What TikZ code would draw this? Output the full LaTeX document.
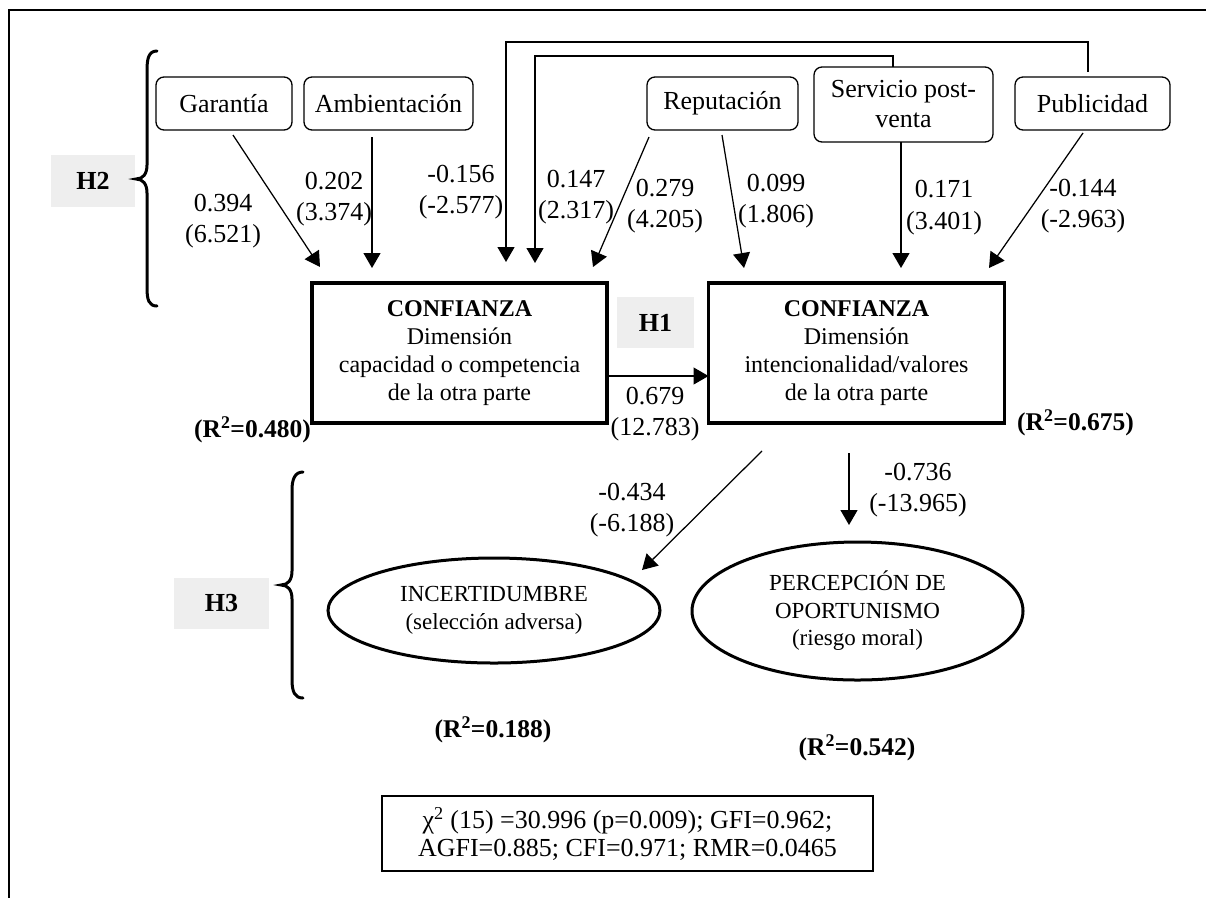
\documentclass[tikz,border=0pt]{standalone}
\usepackage{fontspec}
\setmainfont{Liberation Serif}
\usetikzlibrary{arrows.meta,shapes.geometric}
\definecolor{hgray}{RGB}{238,238,238}
\begin{document}
\begin{tikzpicture}[x=1pt,y=-1pt,
  every node/.style={inner sep=0pt, outer sep=0pt, align=center},
  src/.style={draw, rounded corners=8pt, line width=1.3pt, minimum height=53pt, font=\fontsize{26}{30}\selectfont},
  core/.style={draw, line width=3.5pt, minimum width=295pt, minimum height=140pt, font=\fontsize{24}{28}\selectfont},
  latent/.style={draw, ellipse, line width=3pt, font=\fontsize{23}{27.5}\selectfont},
  hyp/.style={fill=hgray, minimum height=51pt, font=\fontsize{26}{30}\selectfont\bfseries},
  coef/.style={font=\fontsize{26}{31.5}\selectfont},
  rsq/.style={font=\fontsize{25.5}{28}\selectfont\bfseries},
  arr/.style={line width=1.25pt, -{Triangle[length=15pt,width=17pt]}},
  brace/.style={line width=3pt, line cap=round}
]
\useasboundingbox (0,0) rectangle (1206,898);

% frame
\draw[line width=1.5pt] (1206,10) -- (9,10) -- (9,898);

% antecedents
\node[src, minimum width=136pt] (gar) at (224,103.5) {Garantía};
\node[src, minimum width=169pt] (amb) at (388.5,103.5) {Ambientación};
\node[src, minimum width=151pt] (rep) at (722.5,103.5) {Reputación};
\node[src, minimum width=179pt, minimum height=75pt] (ser) at (903.5,104.5) {Servicio post-\\venta};
\node[src, minimum width=155pt] (pub) at (1092.5,103.5) {Publicidad};

% trust dimensions
\node[core] (c1) at (459.5,353) {\textbf{CONFIANZA}\\Dimensión\\capacidad o competencia\\de la otra parte};
\node[core, minimum width=296pt] (c2) at (856.5,353) {\textbf{CONFIANZA}\\Dimensión\\intencionalidad/valores\\de la otra parte};

% outcomes
\node[latent, minimum width=332pt, minimum height=105pt] (e1) at (494,610.5) {INCERTIDUMBRE\\(selección adversa)};
\node[latent, minimum width=331pt, minimum height=138pt] (e2) at (857.5,611) {PERCEPCIÓN DE\\OPORTUNISMO\\(riesgo moral)};

% hypothesis tags
\node[hyp, minimum width=84pt, minimum height=52pt] (h2) at (93,181) {H2};
\node[hyp, minimum width=77pt] (h1) at (655.5,322.5) {H1};
\node[hyp, minimum width=95pt] (h3) at (221.5,603.5) {H3};

% braces
\draw[brace] (157,51) .. controls (149,51) and (147,58) .. (147,70) -- (147,165)
  .. controls (147,174) and (143,179) .. (136,179)
  .. controls (143,179) and (147,184) .. (147,193) -- (147,288)
  .. controls (147,300) and (149,306) .. (157,306);
\draw[brace] (303,472) .. controls (295,472) and (292,479) .. (292,490) -- (292,571)
  .. controls (292,580) and (288,585) .. (281,585)
  .. controls (288,585) and (292,590) .. (292,599) -- (292,680)
  .. controls (292,692) and (295,698) .. (303,698);

% paths into the first trust dimension
\draw[arr] ([xshift=9pt,yshift=-5pt]gar.south) -- ([xshift=-139.5pt,yshift=16pt]c1.north);
\draw[arr] ([xshift=-16.5pt,yshift=-7pt]amb.south) -- ([xshift=-87.5pt,yshift=15pt]c1.north);
\draw[arr] ([xshift=-4.5pt,yshift=5pt]pub.north) -- ++(0,-30) -| ([xshift=46.5pt,yshift=21pt]c1.north);
\draw[arr] ([xshift=-10.5pt]ser.north) -- ++(0,-11) -| ([xshift=75.5pt,yshift=20pt]c1.north);
\draw[arr] ([xshift=-73.5pt,yshift=-7pt]rep.south) -- ([xshift=133.5pt,yshift=16pt]c1.north);

% paths into the second trust dimension
\draw[arr] ([xshift=-0.5pt,yshift=-5pt]rep.south) -- ([xshift=-112.5pt,yshift=15pt]c2.north);
\draw[arr] ([xshift=-2.5pt]ser.south) -- ([xshift=44.5pt,yshift=15pt]c2.north);
\draw[arr] ([xshift=-9.5pt,yshift=-3pt]pub.south) -- ([xshift=132.5pt,yshift=15pt]c2.north);
\draw[arr] ([yshift=-23pt]c1.east) -- ([yshift=-23pt]c2.west);

% consequences
\draw[arr] ([xshift=-94.5pt,yshift=-28pt]c2.south) -- ([xshift=148pt,yshift=40.5pt]e1.center);
\draw[arr] ([xshift=-7.5pt,yshift=-30pt]c2.south) -- ([xshift=-8.5pt,yshift=17pt]e2.north);

% coefficients (t values)
\node[coef] (k1) at (223,221) {0.394\\(6.521)};
\node[coef] (k2) at (334,199) {0.202\\(3.374)};
\node[coef] (k3) at (461,192) {-0.156\\(-2.577)};
\node[coef] (k4) at (576,197) {0.147\\(2.317)};
\node[coef] (k5) at (665,206) {0.279\\(4.205)};
\node[coef] (k6) at (776,201) {0.099\\(1.806)};
\node[coef] (k7) at (944,207.5) {0.171\\(3.401)};
\node[coef] (k8) at (1083,206) {-0.144\\(-2.963)};
\node[coef] (k9) at (655,414) {0.679\\(12.783)};
\node[coef] (k10) at (632,510) {-0.434\\(-6.188)};
\node[coef] (k11) at (918,490) {-0.736\\(-13.965)};

% explained variance
\node[rsq] (r1) at (252.5,430) {(R\textsuperscript{2}=0.480)};
\node[rsq] (r2) at (1075.5,423) {(R\textsuperscript{2}=0.675)};
\node[rsq] (r3) at (493,730) {(R\textsuperscript{2}=0.188)};
\node[rsq] (r4) at (857,748) {(R\textsuperscript{2}=0.542)};

% fit indices
\node[draw, line width=1.5pt, minimum width=491pt, minimum height=75pt,
  font=\fontsize{26}{28}\selectfont] (fit) at (627.5,833.5)
  {χ\textsuperscript{2} (15) =30.996 (p=0.009); GFI=0.962;\\AGFI=0.885; CFI=0.971; RMR=0.0465};
\end{tikzpicture}
\end{document}
